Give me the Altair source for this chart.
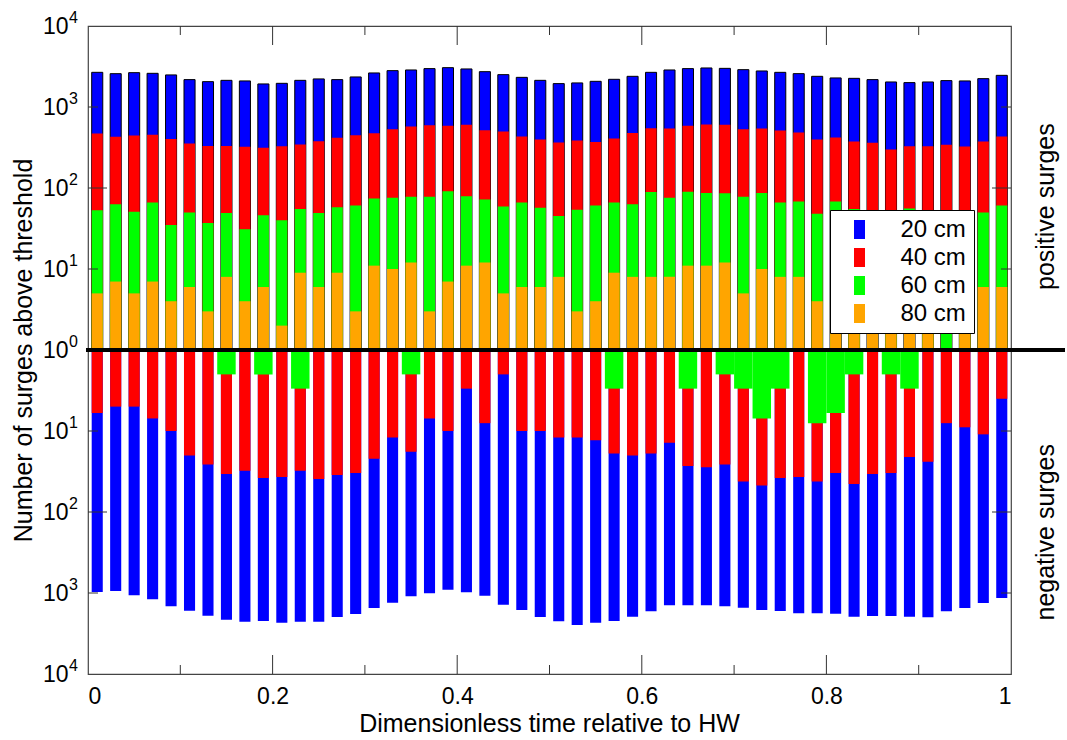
import altair as alt
import pandas as pd

# ---------------- data ----------------
x_pos = [0.01, 0.03, 0.05, 0.07, 0.09, 0.11, 0.13, 0.15, 0.17, 0.19,
         0.21, 0.23, 0.25, 0.27, 0.29, 0.31, 0.33, 0.35, 0.37, 0.39,
         0.41, 0.43, 0.45, 0.47, 0.49, 0.51, 0.53, 0.55, 0.57, 0.59,
         0.61, 0.63, 0.65, 0.67, 0.69, 0.71, 0.73, 0.75, 0.77, 0.79,
         0.81, 0.83, 0.85, 0.87, 0.89, 0.91, 0.93, 0.95, 0.97, 0.99]

# positive surges above threshold
pos_20 = [2680, 2580, 2655, 2605, 2490, 2178, 2057, 2134, 2098, 1927,
          1960, 2134, 2222, 2178, 2350, 2633, 2812, 2866, 2977, 3061,
          2950, 2731, 2510, 2323, 2134, 1944, 1983, 2075, 2197, 2392,
          2679, 2866, 2977, 3034, 3000, 2892, 2786, 2679, 2582, 2392,
          2285, 2259, 2178, 2038, 2000, 2038, 2117, 2098, 2240, 2460]
pos_40 = [470, 428, 444, 453, 404, 354, 331, 331, 322, 313,
          328, 344, 378, 416, 448, 474, 531, 573, 595, 585,
          602, 516, 497, 432, 396, 364, 385, 371, 408, 479,
          546, 542, 585, 607, 602, 531, 542, 512, 484, 396,
          420, 375, 361, 298, 328, 328, 341, 325, 375, 432]
pos_60 = [53, 63, 51, 66, 35, 50, 37, 49, 31, 46,
          40, 55, 49, 58, 61, 74, 76, 78, 78, 91,
          79, 72, 59, 66, 57, 45, 54, 61, 66, 63,
          89, 76, 90, 87, 86, 78, 87, 66, 68, 48,
          68, 55, 50, 45, 56, 52, 40, 45, 50, 61]
pos_80 = [5, 7, 5, 7, 4, 6, 3, 8, 4, 6,
          2, 9, 6, 9, 3, 11, 10, 12, 3, 7,
          11, 12, 5, 6, 6, 8, 3, 4, 9, 8,
          8, 8, 11, 11, 12, 5, 10, 8, 8, 4,
          5, 6, 7, 4, 6, 5, 0, 3, 6, 6]

# negative surges below threshold
neg_20 = [972, 945, 1068, 1196, 1459, 1652, 1905, 2134, 2259, 2215,
          2323, 2259, 2259, 1977, 1815, 1531, 1318, 1098, 1009, 911,
          980, 1080, 1394, 1621, 1977, 2234, 2482, 2323, 2215, 1960,
          1682, 1419, 1419, 1419, 1459, 1518, 1621, 1667, 1778, 1778,
          1799, 1960, 1921, 1921, 1960, 1994, 1682, 1531, 1328, 1153]
neg_40 = [6, 5, 5, 7, 10, 20, 26, 34, 31, 38,
          37, 31, 39, 35, 33, 22, 12, 18, 7, 10,
          3, 8, 2, 10, 10, 12, 12, 13, 19, 20,
          19, 14, 27, 28, 26, 42, 47, 38, 37, 42,
          33, 45, 34, 33, 21, 24, 8, 9, 11, 4]
neg_60 = [0, 0, 0, 0, 0, 0, 0, 2, 0, 2,
          0, 3, 0, 0, 0, 0, 0, 2, 0, 0,
          0, 0, 0, 0, 0, 0, 0, 0, 3, 0,
          0, 0, 3, 0, 2, 3, 7, 3, 0, 8,
          6, 2, 0, 2, 3, 0, 0, 0, 0, 0]
neg_80 = [0] * 50

series_names = ["20 cm", "40 cm", "60 cm", "80 cm"]
series_colors = ["#0000ff", "#ff0000", "#00ff00", "#ffa500"]

y_tick_values = [-4, -3, -2, -1, 0, 1, 2, 3, 4]
y_exponents = ["4", "3", "2", "1", "0", "1", "2", "3", "4"]
y_major_ticks = [-2, 2]
y_minor_ticks = [-3, -1, 1, 3]
x_label_values = [0, 0.2, 0.4, 0.6, 0.8, 1]
x_major_ticks = [0.2, 0.4, 0.6, 0.8]
x_minor_ticks = [0.1, 0.3, 0.5, 0.7, 0.9]

# ---------------- build table ----------------
rows = []
for name, side, vals in [
    ("20 cm", 1, pos_20), ("40 cm", 1, pos_40), ("60 cm", 1, pos_60), ("80 cm", 1, pos_80),
    ("20 cm", -1, neg_20), ("40 cm", -1, neg_40), ("60 cm", -1, neg_60), ("80 cm", -1, neg_80),
]:
    for xv, c in zip(x_pos, vals):
        if c and c > 1:
            rows.append({"x": xv, "series": name, "side": side, "count": c})
df = pd.DataFrame(rows)

W, H = 923, 648
FONT = "Liberation Sans"

xscale = alt.Scale(domain=[0, 1], nice=False, zero=False)
yscale = alt.Scale(domain=[-4, 4], nice=False, zero=False)

xaxis = alt.Axis(values=x_label_values, labelExpr="datum.value == 0 ? '0' : datum.value == 1 ? '1' : format(datum.value, '.1f')",
                 ticks=False, tickSize=0, domain=False, grid=False, labelFontSize=23, labelPadding=11,
                 labelColor="black", labelFont=FONT,
                 title="Dimensionless time relative to HW", titleFont=FONT, titleFontSize=25,
                 titleFontWeight="normal", titleColor="black", titleX=461, titleY=49,
                 titleAlign="center", titleBaseline="middle")
yaxis = alt.Axis(values=y_tick_values, labelExpr="'10'", ticks=False, tickSize=0, domain=False, grid=False,
                 labelFontSize=23, labelPadding=20, labelColor="black", labelFont=FONT,
                 title="Number of surges above threshold", titleFont=FONT, titleFontSize=25,
                 titleFontWeight="normal", titleColor="black", titleX=-65, titleY=324,
                 titleAngle=270, titleAlign="center", titleBaseline="middle")

legend = alt.Legend(title=None, orient="none", legendX=742, legendY=184, fillColor="white",
                    strokeColor="black", padding=7.5, symbolOffset=10,
                    symbolType="M-0.58,-1L0.58,-1L0.58,1L-0.58,1Z", symbolSize=361,
                    symbolStrokeWidth=0, labelFont=FONT, labelFontSize=24, labelOffset=29,
                    labelColor="black", labelLimit=200)
color = alt.Color("series:N", scale=alt.Scale(domain=series_names, range=series_colors), legend=legend)

base = alt.Chart(df)


def bars(name, side, half, **mark_kw):
    return (base.transform_filter((alt.datum.series == name) & (alt.datum.side == side))
            .transform_calculate(xa=f"datum.x - {half}", xb=f"datum.x + {half}",
                                 yv=f"{side} * log(datum.count) / LN10")
            .mark_bar(**mark_kw)
            .encode(x=alt.X("xa:Q", scale=xscale, axis=xaxis), x2="xb:Q",
                    y=alt.Y("yv:Q", scale=yscale, axis=yaxis), y2=alt.datum(0),
                    color=color))


layers = [
    bars("20 cm", 1, 0.006, stroke="black", strokeWidth=1),
    bars("40 cm", 1, 0.006),
    bars("60 cm", 1, 0.006),
    bars("80 cm", 1, 0.006),
    bars("20 cm", -1, 0.006),
    bars("40 cm", -1, 0.006),
    bars("60 cm", -1, 0.01),
    bars("80 cm", -1, 0.006),
]

# thick zero line (10^0), extending to the right edge
zero_line = alt.Chart(pd.DataFrame({"v": [0]})).mark_rule(color="black", strokeWidth=4).encode(
    y=alt.Y("v:Q", scale=yscale, axis=yaxis), x=alt.value(-2), x2=alt.value(977))

tick_col = "#333333"


def yticks(vals, length):
    d = alt.Chart(pd.DataFrame({"v": vals}))
    left = d.mark_rule(color=tick_col, strokeWidth=1).encode(
        y=alt.Y("v:Q", scale=yscale, axis=yaxis), x=alt.value(0), x2=alt.value(length))
    right = d.mark_rule(color=tick_col, strokeWidth=1).encode(
        y=alt.Y("v:Q", scale=yscale, axis=yaxis), x=alt.value(W), x2=alt.value(W - length))
    return [left, right]


def xticks(vals, length):
    d = alt.Chart(pd.DataFrame({"v": vals}))
    bottom = d.mark_rule(color=tick_col, strokeWidth=1).encode(
        x=alt.X("v:Q", scale=xscale, axis=xaxis), y=alt.value(H), y2=alt.value(H - length))
    top = d.mark_rule(color=tick_col, strokeWidth=1).encode(
        x=alt.X("v:Q", scale=xscale, axis=xaxis), y=alt.value(0), y2=alt.value(length))
    return [bottom, top]


tick_layers = yticks(y_major_ticks, 19) + yticks(y_minor_ticks, 10) + xticks(x_major_ticks, 19) + xticks(x_minor_ticks, 9)

# exponents of the 10^n tick labels
exponents = alt.Chart(pd.DataFrame({"v": y_tick_values, "e": y_exponents})).mark_text(
    align="left", baseline="middle", font=FONT, fontSize=16, color="black", dy=-8
).encode(y=alt.Y("v:Q", scale=yscale, axis=yaxis), x=alt.value(-19), text="e:N")

side_text = []
for label, yv in [("positive surges", 1.77), ("negative surges", -2.25)]:
    side_text.append(
        alt.Chart(pd.DataFrame({"t": [label]})).mark_text(
            angle=270, align="center", baseline="middle", font=FONT, fontSize=25, color="black"
        ).encode(text="t:N", x=alt.value(958), y=alt.datum(yv)))

chart = alt.layer(*layers, zero_line, *tick_layers, exponents, *side_text).properties(
    width=W, height=H,
    autosize=alt.AutoSizeParams(type="none"),
    padding={"left": 88, "top": 26, "right": 56, "bottom": 66},
    background="white",
).configure_view(stroke="#444444", strokeWidth=1.2).configure_legend(strokeWidth=1, rowPadding=4)

chart.save("out.html", embed_options={"renderer": "svg", "actions": False})
